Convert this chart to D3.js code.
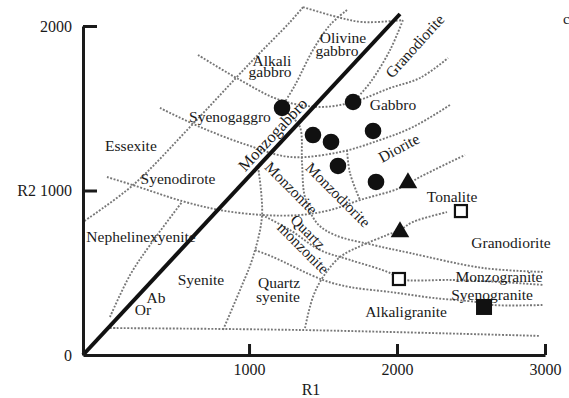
<!DOCTYPE html>
<html>
<head>
<meta charset="utf-8">
<script src="https://cdn.jsdelivr.net/npm/d3@7"></script>
<style>
  body { margin: 0; background: #fff; }
  text { font-family: "Liberation Serif", "Times New Roman", serif; fill: #1a1a1a; }
</style>
</head>
<body>
<div class="chart"></div>
<script>
const width = 569;
const height = 398;

// axis ticks
const xTicks = [1000, 2000, 3000];
const yTicks = [0, 1000, 2000];

// samples (R1, R2)
const circles = [[1223, 1502], [1703, 1538], [1432, 1337], [1554, 1295], [1838, 1362], [1601, 1149], [1858, 1052]];
const triangles = [[2074, 1046], [2020, 748]];
const openSquares = [[2432, 875], [2013, 462]];
const filledSquares = [[2588, 292]];

// Ab-Or line
const abOrLine = [[-122, 0], [2020, 2073]];

// field boundaries, dotted (R1, R2)
const boundaries = [
  [[60, 164], [1344, 152], [2966, 116]],
  [[1061, 1143], [1088, 851], [1027, 596], [939, 395], [824, 152]],
  [[1378, 164], [1432, 353], [1500, 474], [1615, 596], [1770, 669], [1932, 729], [2020, 760], [2108, 809], [2338, 869]],
  [[60, 231], [196, 486], [331, 669], [547, 930]],
  [[40, 1082], [216, 1033], [547, 936], [804, 881], [1094, 851], [1344, 851], [1547, 881], [1750, 942], [2020, 1015], [2155, 1082], [2459, 1216]],
  [[1365, 2115], [1277, 2024], [1007, 1775], [601, 1386], [216, 1033], [-122, 809]],
  [[398, 1502], [669, 1386], [986, 1277], [1277, 1204], [1615, 1234], [1885, 1307], [2108, 1386], [2358, 1520]],
  [[655, 1824], [939, 1672], [1209, 1550], [1480, 1508], [1703, 1538], [1953, 1623], [2155, 1684], [2345, 1805]],
  [[1365, 2115], [1594, 2055], [1770, 2024], [2040, 2036]],
  [[1662, 2097], [1547, 2006], [1432, 1854], [1311, 1641], [1230, 1520]],
  [[2040, 2036], [1953, 1854], [1817, 1654], [1716, 1550]],
  [[1277, 1459], [1344, 1386], [1358, 1167], [1378, 960], [1459, 802], [1581, 729], [1838, 669], [2088, 620], [2581, 529], [2987, 505]],
  [[1662, 1246], [1682, 1106], [1750, 942]],
  [[1088, 851], [1277, 760], [1480, 638], [1682, 578], [1953, 498], [2013, 462], [2378, 456], [2696, 444], [2987, 426]],
  [[1040, 638], [1162, 596], [1500, 456], [1682, 413], [1953, 383], [2243, 347], [2540, 322], [2649, 304], [2987, 304]]
];

// field names: text, R1, R2, rotation
const fieldNames = ['Alkali', 'gabbro', 'Olivine', 'gabbro', 'Granodiorite', 'Gabbro', 'Diorite', 'Tonalite',
  'Granodiorite', 'Monzogranite', 'Syenogranite', 'Alkaligranite', 'Quartz', 'syenite', 'Syenite', 'Ab', 'Or',
  'Nephelinexyenite', 'Syenodirote', 'Essexite', 'Syenogaggro', 'Monzogabbro', 'Monzonite', 'Monzodiorite',
  'Quartz', 'monzonite'];
const fieldR1 = [1155, 1142, 1635, 1594, 2121, 1973, 2013, 2372, 2770, 2689, 2642, 2061, 1203, 1196, 675, 371, 283,
  270, 520, 202, 871, 1160, 1284, 1601, 1398, 1365];
const fieldR2 = [1787, 1720, 1927, 1848, 1878, 1520, 1258, 960, 681, 474, 365, 261, 438, 353, 456, 347, 274,
  717, 1070, 1270, 1447, 1340, 1015, 973, 748, 650];
const fieldRot = [0, 0, 0, 0, -48, 0, -28, 0, 0, 0, 0, 0, 0, 0, 0, 0, 0, 0, 0, 0, 0, -47, 45, 45, 45, 45];

const svg = d3.select("div.chart").append("svg")
  .attr("width", width)
  .attr("height", height)
  .style("display", "block")
  .style("background-color", "white");

const x = d3.scaleLinear().domain([-122, 3000]).range([83, 545]);
const y = d3.scaleLinear().domain([0, 2000]).range([355, 26]);

const line = d3.line()
  .x(d => x(d[0]))
  .y(d => y(d[1]))
  .curve(d3.curveCatmullRom.alpha(0.5));

// dotted boundaries
svg.append('g')
  .selectAll('path')
  .data(boundaries)
  .enter()
  .append('path')
  .attr('d', line)
  .attr('fill', 'none')
  .attr('stroke', '#777')
  .attr('stroke-width', 1.9)
  .attr('stroke-dasharray', '1.9,1.6');

// Ab-Or line
svg.append('path')
  .attr('d', d3.line().x(d => x(d[0])).y(d => y(d[1]))(abOrLine))
  .attr('stroke', '#111')
  .attr('stroke-width', 4)
  .attr('fill', 'none');

// axes
const yAxis = d3.axisLeft(y)
  .tickValues(yTicks)
  .tickSizeInner(-14)
  .tickSizeOuter(0)
  .tickPadding(11)
  .tickFormat(d => d === 1000 ? 'R2 1000' : d);

const xAxis = d3.axisBottom(x)
  .tickValues(xTicks)
  .tickSizeInner(-11)
  .tickSizeOuter(0)
  .tickPadding(9)
  .tickFormat(d => d);

const gy = svg.append('g')
  .attr('transform', 'translate(83, 0)')
  .call(yAxis);

const gx = svg.append('g')
  .attr('transform', 'translate(0, 355)')
  .call(xAxis);

[gx, gy].forEach(g => {
  g.select('.domain').attr('stroke', '#1a1a1a').attr('stroke-width', 3);
  g.selectAll('.tick line').attr('stroke', '#1a1a1a').attr('stroke-width', 3);
  g.selectAll('.tick text')
    .attr('font-family', '"Liberation Serif", serif')
    .attr('font-size', 16)
    .attr('fill', '#1a1a1a');
});
gy.selectAll('.tick').filter(d => d === 0).select('line').remove();

svg.append('text')
  .attr('x', 311)
  .attr('y', 395)
  .attr('text-anchor', 'middle')
  .attr('font-size', 16)
  .text('R1');

// field labels
svg.append('g')
  .selectAll('text')
  .data(fieldNames)
  .enter()
  .append('text')
  .attr('transform', (d, i) => `translate(${x(fieldR1[i])}, ${y(fieldR2[i])}) rotate(${fieldRot[i]})`)
  .attr('text-anchor', 'middle')
  .attr('dy', '0.33em')
  .attr('font-size', d => d === 'Monzogabbro' ? 16.5 : 15.5)
  .text(d => d);

// samples
const marks = svg.append('g');
marks.selectAll('circle')
  .data(circles)
  .enter()
  .append('circle')
  .attr('cx', d => x(d[0]))
  .attr('cy', d => y(d[1]))
  .attr('r', 8.3)
  .attr('fill', '#111');

const tri = d3.symbol().type(d3.symbolTriangle).size(150);
marks.selectAll('path.tri')
  .data(triangles)
  .enter()
  .append('path')
  .attr('class', 'tri')
  .attr('d', tri)
  .attr('transform', d => `translate(${x(d[0])}, ${y(d[1])})`)
  .attr('fill', '#111');

marks.selectAll('rect.open')
  .data(openSquares)
  .enter()
  .append('rect')
  .attr('class', 'open')
  .attr('x', d => x(d[0]) - 6)
  .attr('y', d => y(d[1]) - 6)
  .attr('width', 12)
  .attr('height', 12)
  .attr('fill', 'white')
  .attr('stroke', '#111')
  .attr('stroke-width', 2.2);

marks.selectAll('rect.filled')
  .data(filledSquares)
  .enter()
  .append('rect')
  .attr('class', 'filled')
  .attr('x', d => x(d[0]) - 8)
  .attr('y', d => y(d[1]) - 8)
  .attr('width', 16)
  .attr('height', 16)
  .attr('fill', '#111');

// clipped mark at the right edge
svg.append('text')
  .attr('x', 563)
  .attr('y', 24)
  .attr('font-size', 15)
  .text('c');
</script>
</body>
</html>
